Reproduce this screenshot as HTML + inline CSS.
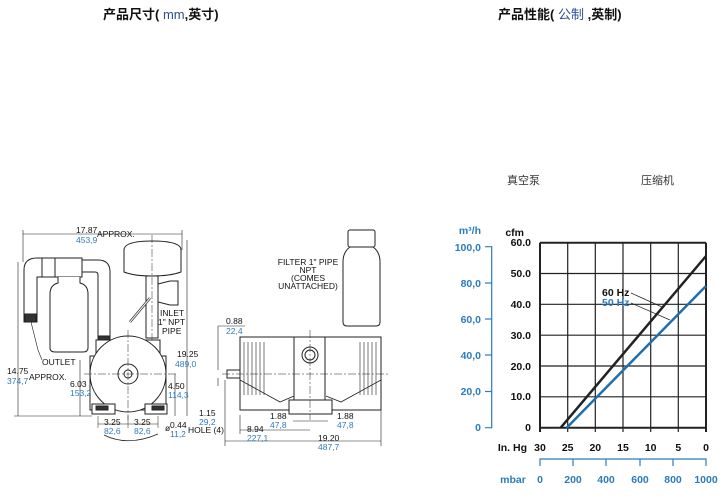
<!DOCTYPE html>
<html><head><meta charset="utf-8"><style>
html,body{margin:0;padding:0;background:#fff;}
body{width:724px;height:502px;overflow:hidden;position:relative;font-family:"Liberation Sans","Noto Sans CJK SC",sans-serif;}
.t{position:absolute;white-space:nowrap;}
</style></head><body>
<div class="t" style="left:103px;top:4px;font-size:13px;font-weight:bold;color:#111;">产品尺寸( <span style="color:#2b4f8f;font-weight:normal">mm</span>,英寸)</div>
<div class="t" style="left:498px;top:4px;font-size:13px;font-weight:bold;color:#111;">产品性能( <span style="color:#2b4f8f;font-weight:normal">公制</span> ,英制)</div>
<div class="t" style="left:507px;top:172px;font-size:11px;color:#333;">真空泵</div>
<div class="t" style="left:641px;top:172px;font-size:11px;color:#333;">压缩机</div>
<svg width="724" height="502" style="position:absolute;left:0;top:0" font-family="Liberation Sans, sans-serif">
<g stroke="#222" fill="none" stroke-width="1">
<line x1="23" y1="234" x2="182" y2="234" stroke-width="0.6"/>
<line x1="23" y1="230" x2="23" y2="262" stroke-width="0.6"/>
<line x1="182" y1="230" x2="182" y2="250" stroke-width="0.6"/>
<line x1="18" y1="262" x2="18" y2="416" stroke-width="0.6"/>
<line x1="14" y1="416" x2="92" y2="416" stroke-width="0.6"/>
<line x1="187" y1="240" x2="187" y2="416" stroke-width="0.6"/>
<line x1="80" y1="360" x2="80" y2="416" stroke-width="0.6"/>
<line x1="175" y1="374" x2="175" y2="416" stroke-width="0.6"/>
<path d="M24 322 V270 Q24 258 37 258 H55 V277 H37 V322 Z" fill="#fff"/>
<rect x="25" y="314" width="11" height="8" fill="#333"/>
<rect x="42" y="258" width="13" height="19" fill="#fff"/>
<rect x="55" y="258" width="27" height="19" fill="#fff"/>
<path d="M58 277 V283 Q50 285 50 294 V348 Q50 352 55 352 H83 Q88 352 88 348 V294 Q88 285 80 283 V277" fill="#fff"/>
<path d="M82 260 H98 Q110 260 110 272 V342 H98 V275 Q98 272 95 272 H82 Z" fill="#fff"/>
<rect x="98" y="336" width="12" height="6" fill="#333"/>
<path d="M31 322 L38 350 L42 360" stroke-width="0.6"/>
<path d="M124 250 Q124 241 152 241 Q181 241 181 250 V272 Q170 276 152 276 Q134 276 124 272 Z" fill="#fff"/>
<rect x="146" y="276" width="12" height="62" fill="#fff"/>
<path d="M158 284 L170 281 H178 V305 H170 L158 302 Z" fill="#fff"/>
<path d="M150 298 Q140 310 130 322" stroke-width="2.5"/>
<path d="M150 298 Q140 310 130 322" stroke="#fff" stroke-width="1"/>
<line x1="152" y1="235" x2="152" y2="405" stroke-dasharray="8,2,2,2" stroke-width="0.5"/>
<path d="M96 340 H160 V356 H166 V410 H90 V356 H96 Z" fill="#fff"/>
<circle cx="128" cy="374" r="38" fill="#fff"/>
<circle cx="128" cy="374" r="10" fill="#fff"/>
<circle cx="128" cy="374" r="4" fill="#fff"/>
<rect x="92" y="404" width="23" height="10" fill="#fff"/>
<rect x="145" y="404" width="22" height="10" fill="#fff"/>
<rect x="96" y="406" width="12" height="4" fill="#333"/>
<rect x="152" y="406" width="12" height="4" fill="#333"/>
<line x1="84" y1="374" x2="178" y2="374" stroke-dasharray="8,2,2,2" stroke-width="0.5"/>
<line x1="128" y1="330" x2="128" y2="420" stroke-dasharray="8,2,2,2" stroke-width="0.5"/>
<path d="M104 435 Q128 447 158 434" stroke-width="0.8"/>
<line x1="98" y1="424" x2="158" y2="424" stroke-width="0.6"/>
<line x1="98" y1="416" x2="98" y2="428" stroke-width="0.5"/>
<line x1="128" y1="416" x2="128" y2="428" stroke-width="0.5"/>
<line x1="158" y1="416" x2="158" y2="428" stroke-width="0.5"/>
<rect x="240" y="337" width="141" height="73" fill="#fff"/>
<g stroke-width="0.6">
<line x1="244" y1="342" x2="244" y2="395"/><line x1="248" y1="342" x2="248" y2="395"/><line x1="252" y1="342" x2="252" y2="395"/><line x1="256" y1="342" x2="256" y2="395"/><line x1="260" y1="342" x2="260" y2="395"/><line x1="264" y1="342" x2="264" y2="395"/>
<line x1="360" y1="342" x2="360" y2="395"/><line x1="364" y1="342" x2="364" y2="395"/><line x1="368" y1="342" x2="368" y2="395"/><line x1="372" y1="342" x2="372" y2="395"/><line x1="376" y1="342" x2="376" y2="395"/>
</g>
<path d="M240 380 L280 402 L294 396 M381 380 L341 402 L326 396" stroke-width="0.8"/>
<rect x="294" y="337" width="31" height="63" fill="#fff"/>
<circle cx="310" cy="355" r="8"/><circle cx="310" cy="355" r="5"/>
<rect x="289" y="400" width="43" height="14" fill="#fff"/>
<rect x="227" y="370" width="13" height="8" fill="#fff"/>
<line x1="222" y1="374" x2="388" y2="374" stroke-dasharray="8,2,2,2" stroke-width="0.5"/>
<line x1="310" y1="330" x2="310" y2="420" stroke-dasharray="8,2,2,2" stroke-width="0.5"/>
<g stroke-width="0.6">
<line x1="218" y1="326" x2="245" y2="326"/><line x1="218" y1="326" x2="218" y2="370"/>
<line x1="218" y1="378" x2="218" y2="386"/>
<line x1="225" y1="380" x2="225" y2="446"/><line x1="381" y1="410" x2="381" y2="446"/>
<line x1="225" y1="441" x2="381" y2="441"/>
<line x1="240" y1="430" x2="310" y2="430"/><line x1="240" y1="415" x2="240" y2="434"/>
<line x1="293" y1="421" x2="328" y2="421"/>
</g>
<rect x="348" y="230" width="27" height="17" rx="2" fill="#fff"/>
<path d="M350 247 Q343 252 343 262 V322 Q343 326 347 326 H376 Q380 326 380 322 V262 Q380 252 373 247 Z" fill="#fff"/>
</g>
<g font-size="8.5" fill="#111">
<text x="76" y="233">17.87</text><text x="76" y="243" fill="#2b7bbf">453,9</text><text x="97" y="237">APPROX.</text>
<text x="7" y="374">14.75</text><text x="7" y="384" fill="#2b7bbf">374,7</text><text x="29" y="380">APPROX.</text>
<text x="42" y="365">OUTLET</text>
<text x="70" y="387">6.03</text><text x="70" y="396" fill="#2b7bbf">153,2</text>
<text x="177" y="357">19.25</text><text x="175" y="367" fill="#2b7bbf">489,0</text>
<text x="168" y="389">4.50</text><text x="168" y="398" fill="#2b7bbf">114,3</text>
<text x="160" y="316">INLET</text><text x="158" y="325">1" NPT</text><text x="162" y="334">PIPE</text>
<text x="104" y="425">3.25</text><text x="104" y="434" fill="#2b7bbf">82,6</text>
<text x="134" y="425">3.25</text><text x="134" y="434" fill="#2b7bbf">82,6</text>
<text x="165" y="431">ø</text><text x="170" y="428">0.44</text><text x="170" y="437" fill="#2b7bbf">11,2</text><text x="188" y="433">HOLE (4)</text>
<text x="226" y="324">0.88</text><text x="226" y="334" fill="#2b7bbf">22,4</text>
<text x="199" y="416">1.15</text><text x="199" y="425" fill="#2b7bbf">29,2</text>
<text x="270" y="419">1.88</text><text x="270" y="428" fill="#2b7bbf">47,8</text>
<text x="337" y="419">1.88</text><text x="337" y="428" fill="#2b7bbf">47,8</text>
<text x="247" y="432">8.94</text><text x="247" y="441" fill="#2b7bbf">227,1</text>
<text x="318" y="441">19.20</text><text x="318" y="450" fill="#2b7bbf">487,7</text>
<g text-anchor="middle"><text x="308" y="265">FILTER 1" PIPE</text><text x="308" y="273">NPT</text><text x="308" y="281">(COMES</text><text x="308" y="289">UNATTACHED)</text></g>
</g>
<g stroke="#222" stroke-width="1.2">
<line x1="540" y1="242.7" x2="706" y2="242.7" stroke-width="2"/>
<line x1="540" y1="273.5" x2="706" y2="273.5"/><line x1="540" y1="304.3" x2="706" y2="304.3"/><line x1="540" y1="335.2" x2="706" y2="335.2"/><line x1="540" y1="366" x2="706" y2="366"/><line x1="540" y1="396.8" x2="706" y2="396.8"/>
<line x1="540" y1="427.7" x2="706" y2="427.7" stroke-width="2"/>
<line x1="540" y1="242.7" x2="540" y2="432" stroke-width="2"/>
<line x1="567.7" y1="242.7" x2="567.7" y2="432"/><line x1="595.3" y1="242.7" x2="595.3" y2="432"/><line x1="623" y1="242.7" x2="623" y2="432"/><line x1="650.7" y1="242.7" x2="650.7" y2="432"/><line x1="678.3" y1="242.7" x2="678.3" y2="432"/>
<line x1="706" y1="242.7" x2="706" y2="432" stroke-width="2"/>
</g>
<line x1="560.7" y1="427.7" x2="706" y2="256" stroke="#222" stroke-width="2.5"/>
<line x1="566.7" y1="427.7" x2="706" y2="286" stroke="#1f6fad" stroke-width="2.5"/>
<line x1="631" y1="293" x2="662" y2="307" stroke="#222" stroke-width="0.7"/>
<line x1="631" y1="303" x2="670" y2="320" stroke="#222" stroke-width="0.7"/>
<g stroke="#2b7bbf" stroke-width="1.2" fill="none">
<path d="M485 246.7 H491.7 V427.7 H485"/>
<line x1="485" y1="283" x2="491.7" y2="283"/><line x1="485" y1="319" x2="491.7" y2="319"/><line x1="485" y1="355" x2="491.7" y2="355"/><line x1="485" y1="391.5" x2="491.7" y2="391.5"/>
<path d="M540 466 V459 H706 V466"/>
<line x1="573" y1="459" x2="573" y2="466"/><line x1="606" y1="459" x2="606" y2="466"/><line x1="640" y1="459" x2="640" y2="466"/><line x1="673" y1="459" x2="673" y2="466"/>
</g>
<g font-size="10.5" font-weight="bold" fill="#111" text-anchor="end">
<text x="531" y="246">60.0</text><text x="531" y="277">50.0</text><text x="531" y="308">40.0</text><text x="531" y="339">30.0</text><text x="531" y="370">20.0</text><text x="531" y="400">10.0</text><text x="531" y="431">0</text>
<text x="524" y="236">cfm</text>
<text x="527" y="451">In. Hg</text>
</g>
<g font-size="10.5" font-weight="bold" fill="#2b7bbf" text-anchor="end">
<text x="481" y="251">100,0</text><text x="481" y="287">80,0</text><text x="481" y="323">60,0</text><text x="481" y="359">40,0</text><text x="481" y="395">20,0</text><text x="481" y="431">0</text>
<text x="481" y="234">m³/h</text>
</g>
<g font-size="10.5" font-weight="bold" fill="#111" text-anchor="middle">
<text x="540" y="451">30</text><text x="567.7" y="451">25</text><text x="595.3" y="451">20</text><text x="623" y="451">15</text><text x="650.7" y="451">10</text><text x="678.3" y="451">5</text><text x="706" y="451">0</text>
</g>
<g font-size="10.5" font-weight="bold" fill="#2b7bbf" text-anchor="middle">
<text x="513" y="483">mbar</text>
<text x="540" y="483">0</text><text x="573" y="483">200</text><text x="606" y="483">400</text><text x="640" y="483">600</text><text x="673" y="483">800</text><text x="706" y="483">1000</text>
</g>
<text x="602" y="296" font-size="10.5" font-weight="bold" fill="#111">60 Hz</text>
<text x="602" y="306" font-size="10.5" font-weight="bold" fill="#2b7bbf">50 Hz</text>
</svg>
</body></html>
